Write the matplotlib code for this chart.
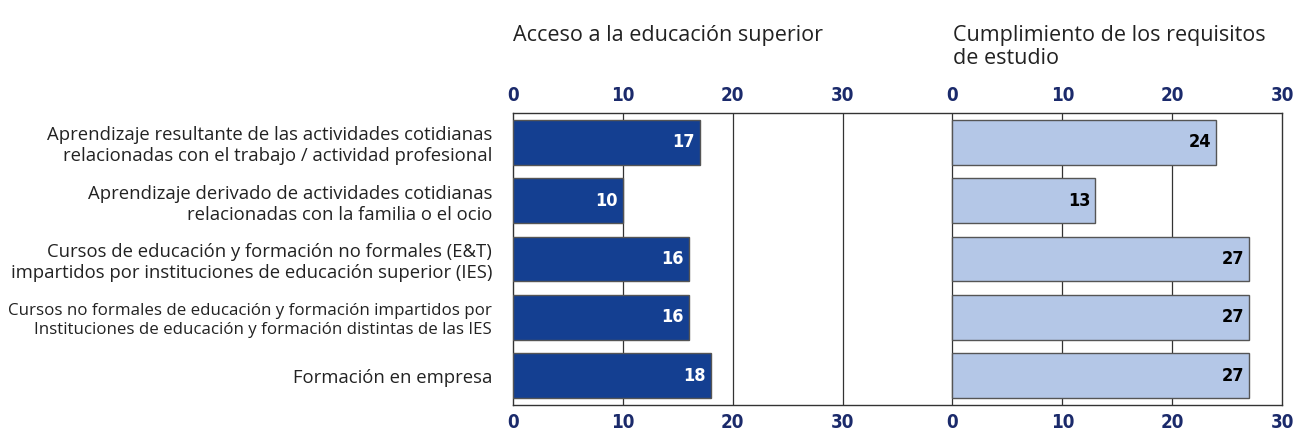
import matplotlib
matplotlib.use("Agg")
import matplotlib.pyplot as plt

# Data
categories = [
    "Aprendizaje resultante de las actividades cotidianas\nrelacionadas con el trabajo / actividad profesional",
    "Aprendizaje derivado de actividades cotidianas\nrelacionadas con la familia o el ocio",
    "Cursos de educación y formación no formales (E&T)\nimpartidos por instituciones de educación superior (IES)",
    "Cursos no formales de educación y formación impartidos por\nInstituciones de educación y formación distintas de las IES",
    "Formación en empresa",
]
acceso = [17, 10, 16, 16, 18]
cumplimiento = [24, 13, 27, 27, 27]
panel_titles = ["Acceso a la educación superior", "Cumplimiento de los requisitos\nde estudio"]
tick_values = [0, 10, 20, 30]

DARK = "#143F91"
LIGHT = "#B4C7E7"
EDGE = "#555555"
NAVY = "#1B2A6B"
TEXT = "#222222"
sans = ["Open Sans", "DejaVu Sans"]

panel_max = 30
offset = 40  # right panel starts 40 units to the right (10-unit gap)

fig = plt.figure(figsize=(12.96, 4.32), dpi=100)
ax = fig.add_axes([0.3958, 0.0625, 0.5934, 0.6759])

ypos = list(range(len(categories)))
h = 0.77
ax.barh(ypos, acceso, height=h, color=DARK, edgecolor=EDGE, linewidth=1, zorder=3)
ax.barh(ypos, cumplimiento, left=offset, height=h, color=LIGHT, edgecolor=EDGE,
        linewidth=1, zorder=3)

num_font = dict(fontsize=13, fontweight="bold", family="DejaVu Sans",
                fontstretch="condensed")
for y, v in zip(ypos, acceso):
    ax.text(v - 0.45, y, str(v), ha="right", va="center", color="white",
            zorder=4, **num_font)
for y, v in zip(ypos, cumplimiento):
    ax.text(offset + v - 0.45, y, str(v), ha="right", va="center", color="black",
            zorder=4, **num_font)

ax.set_xlim(0, offset + panel_max)
ax.set_ylim(len(categories) - 0.5, -0.5)

# vertical gridlines for both panels
for t in tick_values[1:]:
    ax.axvline(t, color="#333333", linewidth=0.9, zorder=1)
for t in tick_values[:-1]:
    ax.axvline(offset + t, color="#333333", linewidth=0.9, zorder=1)

xt = tick_values + [offset + t for t in tick_values]
xl = [str(t) for t in tick_values] * 2
ax.set_xticks(xt)
ax.set_xticklabels(xl)
ax.tick_params(axis="x", top=True, labeltop=True, bottom=True, labelbottom=True,
               length=0, pad=6, colors=NAVY)
for lbl in ax.get_xticklabels():
    lbl.set_fontweight("bold")
    lbl.set_fontsize(13.5)
    lbl.set_family("DejaVu Sans")
    lbl.set_fontstretch("condensed")

ax.set_yticks(ypos)
ax.set_yticklabels(categories, fontsize=13.3, color=TEXT, linespacing=1.22)
ax.tick_params(axis="y", length=0, pad=15)
for lbl in ax.get_yticklabels():
    lbl.set_family(sans)
ax.get_yticklabels()[3].set_fontsize(12.2)

for s in ax.spines.values():
    s.set_color("#333333")
    s.set_linewidth(1)

fig.text(0.3958, 1 - 35 / 432, panel_titles[0], fontsize=15.5, color=TEXT,
         family=sans, va="center")
fig.text(0.7353, 1 - 25 / 432, panel_titles[1], fontsize=15.5, color=TEXT,
         family=sans, va="top", linespacing=1.12)

fig.savefig("out.png", dpi=100)
